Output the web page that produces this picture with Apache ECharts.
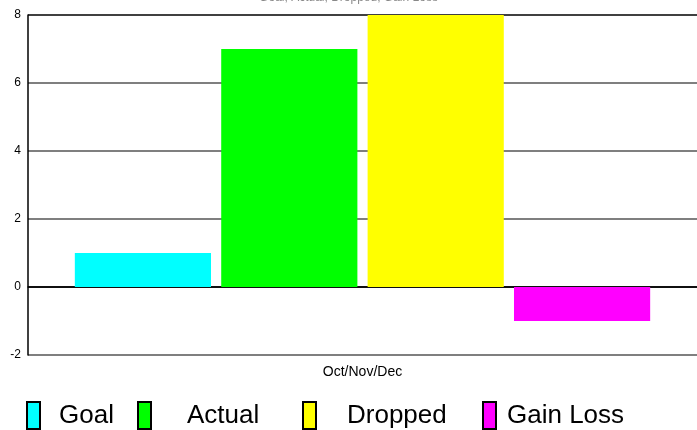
<!DOCTYPE html>
<html>
<head>
<meta charset="utf-8">
<script src="https://cdn.jsdelivr.net/npm/echarts@6/dist/echarts.min.js"></script>
<style>html,body{margin:0;padding:0;background:#fff}#c{width:697px;height:430px}</style>
</head>
<body>
<div id="c"></div>
<script>
var categories = ['Oct/Nov/Dec'];
var seriesNames = ['Goal', 'Actual', 'Dropped', 'Gain Loss'];
var goal = [1];
var actual = [7];
var dropped = [8];
var gainLoss = [-1];
var yTicks = [-2, 0, 2, 4, 6, 8];

var colors = ['#00FFFF', '#00FF00', '#FFFF00', '#FF00FF'];
var values = [goal, actual, dropped, gainLoss];
var legendLeft = [26, 137, 302, 482];
var legendPad = [14, 31, 26, 6];

var chart = echarts.init(document.getElementById('c'));
var legends = seriesNames.map(function (n, i) {
  return {
    data: [n], left: legendLeft[i], top: 401, orient: 'horizontal',
    itemWidth: 13, itemHeight: 27, padding: 0,
    icon: 'rect',
    itemStyle: { borderColor: '#000', borderWidth: 2 },
    textStyle: { fontFamily: 'Liberation Sans', fontSize: 26, color: '#000', padding: [0, 0, 0, legendPad[i]] },
    selectedMode: false
  };
});
chart.setOption({
  animation: false,
  title: {
    text: seriesNames.join(', '), left: 'center', top: -13,
    textStyle: { fontFamily: 'Liberation Sans', fontSize: 12, color: '#888', fontWeight: 'normal' }
  },
  legend: legends,
  grid: { left: 28, right: 0, top: 15, bottom: 75, containLabel: false, outerBoundsMode: 'none' },
  xAxis: {
    type: 'category', data: categories,
    axisLine: { show: true, onZero: true, lineStyle: { color: '#000', width: 1.5 } },
    axisTick: { show: false },
    axisLabel: { fontFamily: 'Liberation Sans', fontSize: 14, color: '#000', margin: 10 }
  },
  yAxis: {
    type: 'value', min: yTicks[0], max: yTicks[yTicks.length - 1], interval: 2,
    axisLine: { show: true, lineStyle: { color: '#000', width: 1.5 } },
    axisTick: { show: false },
    axisLabel: { fontFamily: 'Liberation Sans', fontSize: 12, color: '#000', margin: 7 },
    splitLine: { show: true, lineStyle: { color: ['#555', '#000', '#555', '#555', '#555', '#000'], width: 1.5 } }
  },
  series: seriesNames.map(function (n, i) {
    return {
      name: n, type: 'bar', data: values[i],
      barCategoryGap: '14%', barGap: '7.5%',
      itemStyle: { color: colors[i] }
    };
  })
});
</script>
</body>
</html>
